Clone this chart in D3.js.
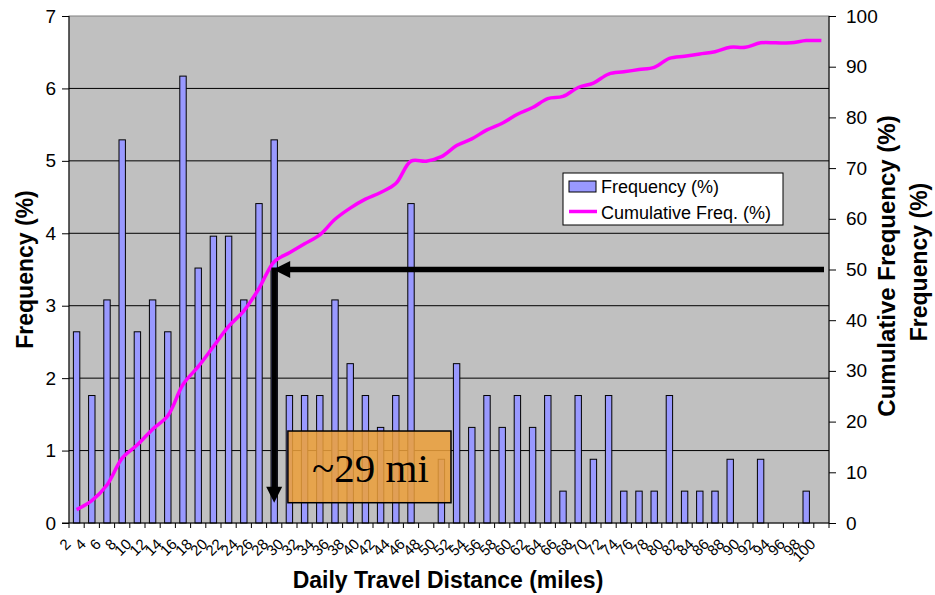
<!DOCTYPE html>
<html>
<head>
<meta charset="utf-8">
<script src="https://cdn.jsdelivr.net/npm/d3@7"></script>
<style>
  body { margin: 0; background: #fff; }
  svg { display: block; font-family: "Liberation Sans", Arial, sans-serif; }
</style>
</head>
<body>
<div id="chart"></div>
<script>
// categories (daily travel distance, miles)
var miles = [2,4,6,8,10,12,14,16,18,20,22,24,26,28,30,32,34,36,38,40,
             42,44,46,48,50,52,54,56,58,60,62,64,66,68,70,72,74,76,78,80,
             82,84,86,88,90,92,94,96,98,100];

// frequency (%) per bin
var freq = [2.64,1.76,3.08,5.29,2.64,3.08,2.64,6.17,3.52,3.96,
            3.96,3.08,4.41,5.29,1.76,1.76,1.76,3.08,2.20,1.76,
            1.32,1.76,4.41,0,0.88,2.20,1.32,1.76,1.32,1.76,
            1.32,1.76,0.44,1.76,0.88,1.76,0.44,0.44,0.44,1.76,
            0.44,0.44,0.44,0.88,0,0.88,0,0,0.44,0];

// cumulative frequency (%)
var cumFreq = [2.64,4.41,7.49,12.78,15.42,18.50,21.15,27.31,30.84,34.80,
               38.77,41.85,46.26,51.54,53.30,55.07,56.83,59.91,62.11,63.88,
               65.20,66.96,71.37,71.37,72.25,74.45,75.77,77.53,78.85,80.62,
               81.94,83.70,84.14,85.90,86.78,88.55,88.99,89.43,89.87,91.63,
               92.07,92.51,92.95,93.83,93.83,94.71,94.71,94.71,95.15,95.15];

var leftTicks = [0,1,2,3,4,5,6,7];
var rightTicks = [0,10,20,30,40,50,60,70,80,90,100];

var W = 935, H = 595;
var margin = {top: 16, right: 106, bottom: 72, left: 69};
var width = W - margin.left - margin.right,
    height = H - margin.top - margin.bottom;

var svg = d3.select("#chart").append("svg")
    .attr("width", W)
    .attr("height", H);

var g = svg.append("g")
    .attr("transform", "translate(" + margin.left + "," + margin.top + ")");

var x = d3.scaleBand().domain(miles).range([0, width]);
var yL = d3.scaleLinear().domain([0, 7]).range([height, 0]);
var yR = d3.scaleLinear().domain([0, 100]).range([height, 0]);
var bw = x.bandwidth();
function cx(m) { return x(m) + bw / 2; }

// plot area
g.append("rect")
    .attr("x", 0).attr("y", 0)
    .attr("width", width).attr("height", height)
    .style("fill", "#c0c0c0")
    .style("stroke", "#808080")
    .style("stroke-width", 1);

// gridlines
g.selectAll(".grid")
    .data(leftTicks.slice(1, 7))
    .enter().append("line")
    .attr("x1", 0).attr("x2", width)
    .attr("y1", function(d) { return yL(d); })
    .attr("y2", function(d) { return yL(d); })
    .style("stroke", "#000")
    .style("stroke-width", 1);

// bars
var barW = 6.4;
g.selectAll(".bar")
    .data(miles)
    .enter().append("rect")
    .filter(function(d, i) { return freq[i] > 0; })
    .attr("x", function(d) { return cx(d) - barW / 2; })
    .attr("y", function(d) { return yL(freq[miles.indexOf(d)]); })
    .attr("width", barW)
    .attr("height", function(d) { return height - yL(freq[miles.indexOf(d)]); })
    .style("fill", "#9999ff")
    .style("stroke", "#000")
    .style("stroke-width", 1);

// cumulative line
var line = d3.line()
    .x(function(d, i) { return cx(miles[i]); })
    .y(function(d) { return yR(d); })
    .curve(d3.curveCatmullRom.alpha(0.5));

g.append("path")
    .datum(cumFreq)
    .attr("d", line)
    .style("fill", "none")
    .style("stroke", "#ff00ff")
    .style("stroke-width", 3.5);

// left axis
var axL = g.append("g")
    .call(d3.axisLeft(yL).tickValues(leftTicks).tickFormat(d3.format("d"))
        .tickSize(7).tickPadding(6));
axL.select(".domain").attr("d", "M0," + height + "V0");
axL.selectAll("text").style("font-size", "19px").style("fill", "#000")
    .style("font-family", "'Liberation Sans', Arial, sans-serif");

// right axis
var axR = g.append("g")
    .attr("transform", "translate(" + width + ",0)")
    .call(d3.axisRight(yR).tickValues(rightTicks).tickFormat(d3.format("d"))
        .tickSize(7).tickPadding(10));
axR.select(".domain").attr("d", "M0," + height + "V0");
axR.selectAll("text").style("font-size", "19px").style("fill", "#000")
    .style("font-family", "'Liberation Sans', Arial, sans-serif");

// x axis: line, ticks at category boundaries, rotated labels
g.append("line")
    .attr("x1", -7).attr("x2", width)
    .attr("y1", height).attr("y2", height)
    .style("stroke", "#000");
g.selectAll(".xtick")
    .data(miles.concat(["end"]))
    .enter().append("line")
    .attr("x1", function(d) { return d === "end" ? width : x(d); })
    .attr("x2", function(d) { return d === "end" ? width : x(d); })
    .attr("y1", height).attr("y2", height + 5)
    .style("stroke", "#000");
g.selectAll(".xlab")
    .data(miles)
    .enter().append("text")
    .attr("transform", function(d) {
        return "translate(" + (cx(d) - 5) + "," + (height + 22) + ") rotate(-45)";
    })
    .attr("text-anchor", "end")
    .style("font-size", "15px")
    .text(function(d) { return d; });

// axis titles
svg.append("text")
    .attr("transform", "translate(33," + (margin.top + height / 2) + ") rotate(-90)")
    .attr("text-anchor", "middle")
    .style("font-size", "23px").style("font-weight", "bold")
    .text("Frequency (%)");

svg.append("text")
    .attr("transform", "translate(895,266) rotate(-90)")
    .attr("text-anchor", "middle")
    .style("font-size", "24px").style("font-weight", "bold")
    .text("Cumulative Frequency (%)");

svg.append("text")
    .attr("transform", "translate(927,262) rotate(-90)")
    .attr("text-anchor", "middle")
    .style("font-size", "23px").style("font-weight", "bold")
    .text("Frequency (%)");

svg.append("text")
    .attr("x", 448).attr("y", 588)
    .attr("text-anchor", "middle")
    .style("font-size", "23px").style("font-weight", "bold")
    .text("Daily Travel Distance (miles)");

// annotation: 50% cumulative -> ~29 mi
var at = 28, atPct = 50;
var ax = cx(at), ay = yR(atPct);
var ann = g.append("g");
ann.append("line")
    .attr("x1", width - 5).attr("x2", ax + 14)
    .attr("y1", ay).attr("y2", ay)
    .style("stroke", "#000").style("stroke-width", 5.5);
ann.append("path")
    .attr("d", "M" + (ax - 1) + "," + ay + "L" + (ax + 16) + "," + (ay - 8.5) +
               "L" + (ax + 16) + "," + (ay + 8.5) + "Z")
    .style("fill", "#000");
ann.append("line")
    .attr("x1", ax).attr("x2", ax)
    .attr("y1", ay - 2).attr("y2", yR(4) - 14)
    .style("stroke", "#000").style("stroke-width", 5.5);
ann.append("path")
    .attr("d", "M" + ax + "," + yR(4) + "L" + (ax - 8) + "," + (yR(4) - 16) +
               "L" + (ax + 8) + "," + (yR(4) - 16) + "Z")
    .style("fill", "#000");

var bx0 = cx(30) - 1.5, bx1 = x(52) + 2;
var by0 = yL(1.27), by1 = yL(0.28);
ann.append("rect")
    .attr("x", bx0).attr("y", by0)
    .attr("width", bx1 - bx0).attr("height", by1 - by0)
    .style("fill", "rgba(236,160,58,0.86)")
    .style("stroke", "#000").style("stroke-width", 1.5);
ann.append("text")
    .attr("x", (bx0 + bx1) / 2 + 1).attr("y", by0 + 51)
    .attr("text-anchor", "middle")
    .style("font-family", "'Liberation Serif', 'Times New Roman', serif")
    .style("font-size", "41px")
    .text("~29 mi");

// legend
var lg = svg.append("g").attr("transform", "translate(563,173)");
lg.append("rect")
    .attr("width", 220).attr("height", 52)
    .style("fill", "#fff").style("stroke", "#000").style("stroke-width", 1);
lg.append("rect")
    .attr("x", 6).attr("y", 8).attr("width", 27).attr("height", 11)
    .style("fill", "#9999ff").style("stroke", "#000");
lg.append("text")
    .attr("x", 38).attr("y", 20)
    .style("font-size", "18px")
    .text("Frequency (%)");
lg.append("line")
    .attr("x1", 6).attr("x2", 34).attr("y1", 38.5).attr("y2", 38.5)
    .style("stroke", "#ff00ff").style("stroke-width", 3.5);
lg.append("text")
    .attr("x", 38).attr("y", 46)
    .style("font-size", "18px")
    .text("Cumulative Freq. (%)");
</script>
</body>
</html>
